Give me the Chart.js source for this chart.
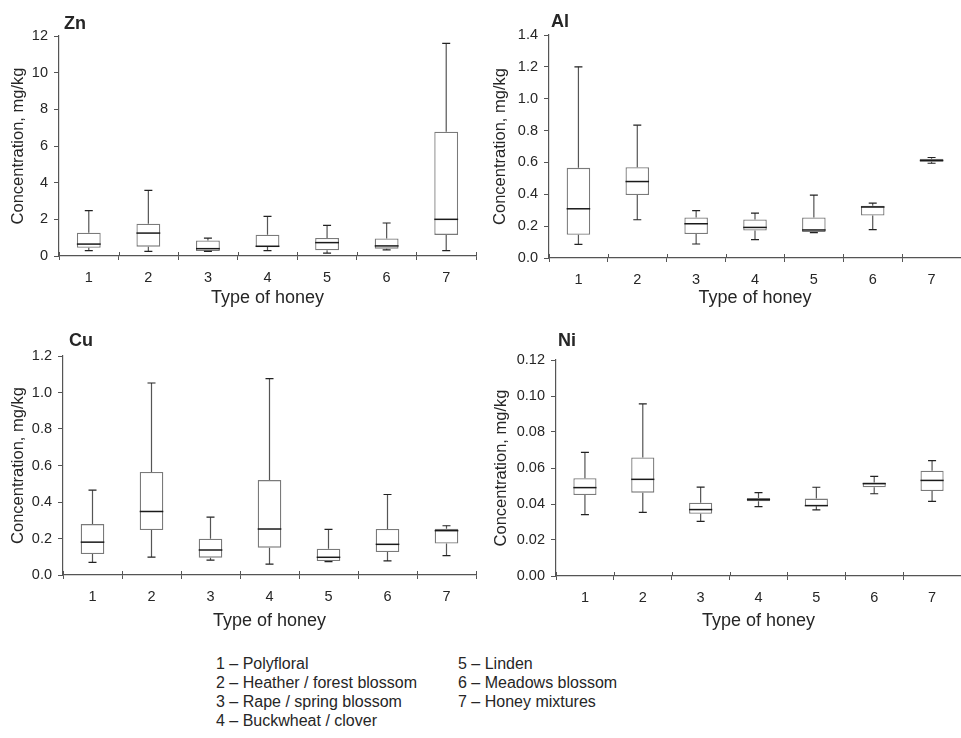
<!DOCTYPE html>
<html>
<head>
<meta charset="utf-8">
<script src="https://cdn.jsdelivr.net/npm/chart.js@4"></script>
<style>
  body { margin: 0; background: #fff; font-family: "Liberation Sans", Arial, sans-serif; color: #262626; }
  #page { position: relative; width: 961px; height: 738px; overflow: hidden; }
  .panel { position: absolute; }
  .legend { position: absolute; font-size: 16px; line-height: 19px; color: #262626; }
</style>
</head>
<body>
<div id="page">
  <div class="panel" style="left:0;top:0"><canvas id="zn" width="480" height="312"></canvas></div>
  <div class="panel" style="left:480px;top:0"><canvas id="al" width="481" height="312"></canvas></div>
  <div class="panel" style="left:0;top:310px"><canvas id="cu" width="480" height="325"></canvas></div>
  <div class="panel" style="left:480px;top:310px"><canvas id="ni" width="481" height="325"></canvas></div>
  <div class="legend" id="legLeft" style="left:216px;top:654px"></div>
  <div class="legend" id="legRight" style="left:458px;top:654px"></div>
</div>
<script>
const honeyTypes = ["1", "2", "3", "4", "5", "6", "7"];
const honeyNames = ["Polyfloral", "Heather / forest blossom", "Rape / spring blossom", "Buckwheat / clover",
  "Linden", "Meadows blossom", "Honey mixtures"];

// Zn
const znMin = [0.29, 0.25, 0.25, 0.29, 0.16, 0.33, 0.29];
const znQ1 = [0.45, 0.51, 0.27, 0.49, 0.31, 0.40, 1.15];
const znMedian = [0.65, 1.25, 0.40, 0.53, 0.73, 0.55, 2.00];
const znQ3 = [1.27, 1.76, 0.85, 1.16, 0.98, 0.96, 6.78];
const znMax = [2.47, 3.58, 0.98, 2.16, 1.67, 1.80, 11.6];
const znTicks = ["0", "2", "4", "6", "8", "10", "12"];

// Al
const alMin = [0.086, 0.24, 0.088, 0.115, 0.159, 0.178, 0.595];
const alQ1 = [0.146, 0.395, 0.15, 0.173, 0.163, 0.267, 0.604];
const alMedian = [0.309, 0.48, 0.215, 0.192, 0.176, 0.32, 0.612];
const alQ3 = [0.566, 0.57, 0.255, 0.242, 0.255, 0.328, 0.623];
const alMax = [1.2, 0.834, 0.297, 0.282, 0.395, 0.345, 0.631];
const alTicks = ["0.0", "0.2", "0.4", "0.6", "0.8", "1.0", "1.2", "1.4"];

// Cu
const cuMin = [0.069, 0.098, 0.082, 0.06, 0.073, 0.077, 0.106];
const cuQ1 = [0.115, 0.246, 0.095, 0.15, 0.077, 0.126, 0.173];
const cuMedian = [0.18, 0.348, 0.137, 0.252, 0.097, 0.168, 0.243];
const cuQ3 = [0.279, 0.565, 0.199, 0.52, 0.144, 0.252, 0.254];
const cuMax = [0.465, 1.052, 0.317, 1.076, 0.25, 0.441, 0.27];
const cuTicks = ["0.0", "0.2", "0.4", "0.6", "0.8", "1.0", "1.2"];

// Ni
const niMin = [0.0341, 0.0354, 0.0304, 0.0385, 0.0367, 0.0457, 0.0415];
const niQ1 = [0.045, 0.0463, 0.0346, 0.0415, 0.0387, 0.0493, 0.0472];
const niMedian = [0.0491, 0.0537, 0.0369, 0.0424, 0.0391, 0.0513, 0.0531];
const niQ3 = [0.0543, 0.0659, 0.0407, 0.0433, 0.043, 0.0519, 0.0585];
const niMax = [0.0687, 0.0956, 0.0494, 0.0463, 0.0493, 0.0554, 0.0641];
const niTicks = ["0.00", "0.02", "0.04", "0.06", "0.08", "0.10", "0.12"];

const FONT = "'Liberation Sans', Arial, sans-serif";
const TEXT = "#262626";
const AXIS = "#555";

// whiskers, medians, panel label and the little up-ticks on the x axis
const boxExtras = {
  id: "boxExtras",
  afterDatasetsDraw(chart) {
    const ctx = chart.ctx;
    const y = chart.scales.y;
    const x = chart.scales.x;
    const bx = chart.options.plugins.boxExtras;
    const meta = chart.getDatasetMeta(0);
    ctx.save();
    meta.data.forEach((bar, i) => {
      const half = bar.width / 2;
      const cap = 4;
      const yMin = y.getPixelForValue(bx.min[i]);
      const yQ1 = y.getPixelForValue(bx.q1[i]);
      const yQ3 = y.getPixelForValue(bx.q3[i]);
      const yMax = y.getPixelForValue(bx.max[i]);
      const yMed = y.getPixelForValue(bx.median[i]);
      ctx.strokeStyle = "#555";
      ctx.lineWidth = 1.2;
      ctx.beginPath();
      ctx.moveTo(bar.x, yQ3); ctx.lineTo(bar.x, yMax);
      ctx.moveTo(bar.x, yQ1); ctx.lineTo(bar.x, yMin);
      ctx.stroke();
      ctx.strokeStyle = "#222";
      ctx.beginPath();
      ctx.moveTo(bar.x - cap, yMax); ctx.lineTo(bar.x + cap, yMax);
      ctx.moveTo(bar.x - cap, yMin); ctx.lineTo(bar.x + cap, yMin);
      ctx.stroke();
      ctx.lineWidth = 1.5;
      ctx.strokeStyle = "#1a1a1a";
      ctx.beginPath();
      ctx.moveTo(bar.x - half, yMed); ctx.lineTo(bar.x + half, yMed);
      ctx.stroke();
    });
    // tick marks at category borders poke up into the plot too
    ctx.strokeStyle = AXIS;
    ctx.lineWidth = 1;
    for (let i = 0; i <= honeyTypes.length; i++) {
      const px = Math.round(x.getPixelForValue(i - 0.5)) + 0.5;
      ctx.beginPath();
      ctx.moveTo(px, x.top);
      ctx.lineTo(px, x.top - 4);
      ctx.stroke();
    }
    ctx.fillStyle = TEXT;
    ctx.font = "bold 18px " + FONT;
    ctx.textBaseline = "alphabetic";
    ctx.fillText(bx.title, bx.titleX, bx.titleY);
    ctx.restore();
  }
};

function boxPanel(id, title, ticks, min, q1, median, q3, max, lay) {
  const tickValues = ticks.map(Number);
  new Chart(document.getElementById(id), {
    type: "bar",
    data: {
      labels: honeyTypes,
      datasets: [{
        data: q1.map((v, i) => [v, q3[i]]),
        backgroundColor: "#fff",
        borderColor: "#7a7a7a",
        borderWidth: 1.3,
        borderSkipped: false,
        barPercentage: 0.4,
        categoryPercentage: 1,
      }],
    },
    options: {
      responsive: false,
      animation: false,
      layout: { padding: { top: lay.top, right: lay.right, left: 0, bottom: 0 } },
      plugins: {
        legend: { display: false },
        tooltip: { enabled: false },
        boxExtras: { title, min, q1, median, q3, max, titleX: lay.titleX, titleY: lay.titleY },
      },
      scales: {
        x: {
          grid: { drawOnChartArea: false, tickLength: 4, color: AXIS, offset: true },
          border: { color: AXIS, width: 1.2 },
          ticks: { color: TEXT, font: { family: FONT, size: 14.5 }, padding: 9, maxRotation: 0 },
          title: { display: true, text: "Type of honey", color: TEXT, font: { family: FONT, size: 18 }, padding: { top: 0, bottom: 3 } },
          afterFit: (s) => { s.height = lay.xHeight; },
        },
        y: {
          min: tickValues[0],
          max: tickValues[tickValues.length - 1],
          afterBuildTicks: (s) => { s.ticks = tickValues.map((v) => ({ value: v })); },
          grid: { drawOnChartArea: false, tickLength: 5, color: AXIS },
          border: { color: AXIS, width: 1.2 },
          ticks: { color: TEXT, font: { family: FONT, size: 14.5 }, padding: 6, callback: (v, i) => ticks[i] },
          title: { display: true, text: "Concentration, mg/kg", color: TEXT, font: { family: FONT, size: 16.5 }, padding: { top: lay.yTitlePad, bottom: 0 } },
          afterFit: (s) => { s.width = lay.yWidth; },
        },
      },
    },
    plugins: [boxExtras],
  });
}

boxPanel("zn", "Zn", znTicks, znMin, znQ1, znMedian, znQ3, znMax,
  { top: 36, right: 4, xHeight: 56, yWidth: 59, yTitlePad: 9, titleX: 64, titleY: 29 });
boxPanel("al", "Al", alTicks, alMin, alQ1, alMedian, alQ3, alMax,
  { top: 35, right: 0, xHeight: 54, yWidth: 69, yTitlePad: 11, titleX: 71, titleY: 27 });
boxPanel("cu", "Cu", cuTicks, cuMin, cuQ1, cuMedian, cuQ3, cuMax,
  { top: 46, right: 4, xHeight: 60, yWidth: 63, yTitlePad: 9, titleX: 69, titleY: 36 });
boxPanel("ni", "Ni", niTicks, niMin, niQ1, niMedian, niQ3, niMax,
  { top: 50, right: 0, xHeight: 59, yWidth: 76, yTitlePad: 12, titleX: 78, titleY: 36 });

// legend of honey types, two columns
const legLeft = document.getElementById("legLeft");
const legRight = document.getElementById("legRight");
honeyNames.forEach((name, i) => {
  const line = document.createElement("div");
  line.textContent = honeyTypes[i] + " \u2013 " + name;
  (i < 4 ? legLeft : legRight).appendChild(line);
});
</script>
</body>
</html>
